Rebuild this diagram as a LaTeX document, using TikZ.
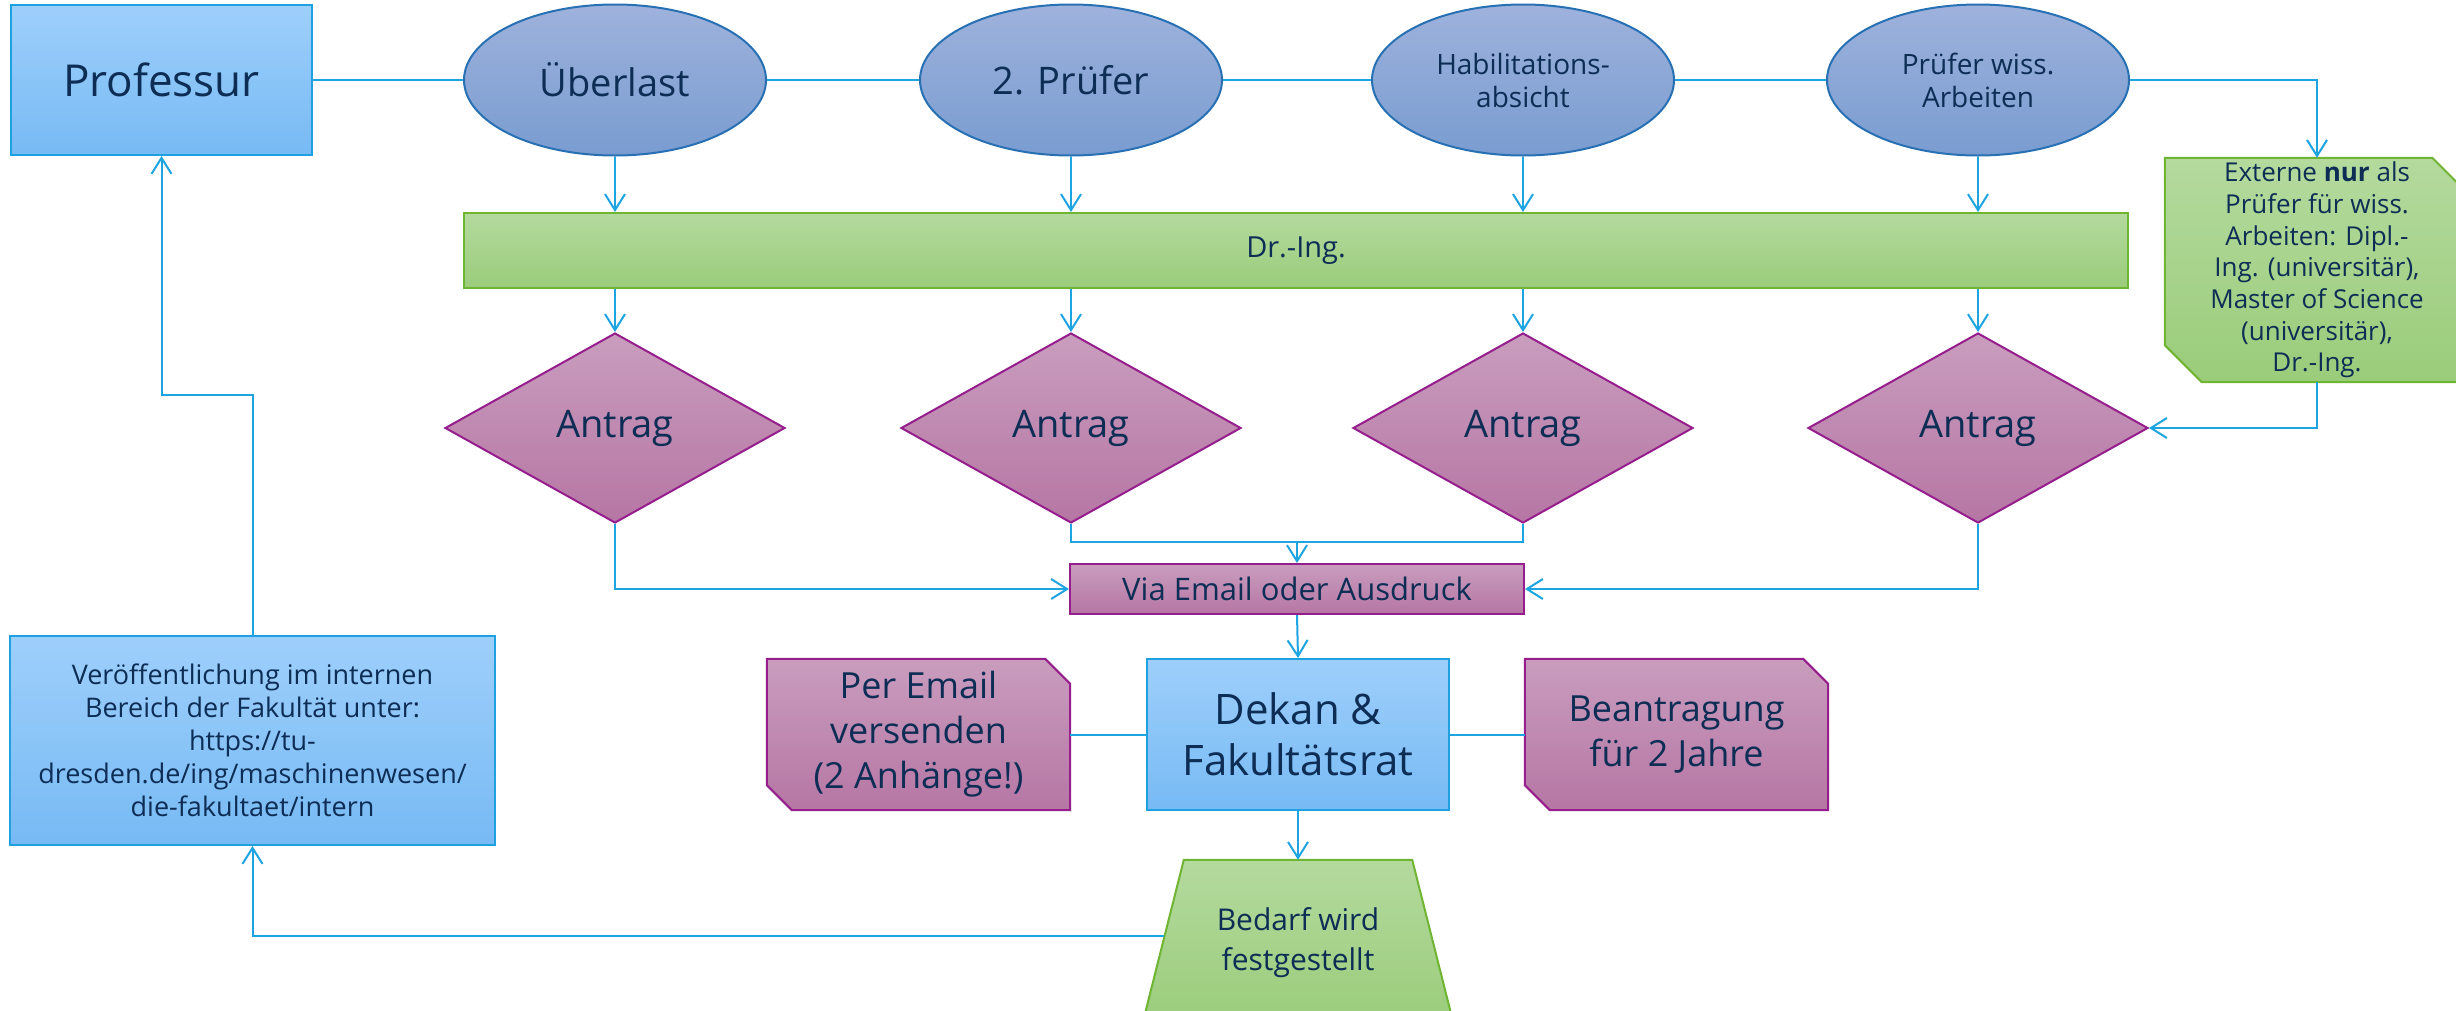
\documentclass[tikz,border=0pt]{standalone}
\usepackage{fontspec}
\setmainfont{Open Sans}
\usetikzlibrary{shapes.geometric,arrows.meta,calc,backgrounds}
\definecolor{textc}{RGB}{13,45,85}
\definecolor{linec}{RGB}{30,165,225}
\definecolor{bluet}{RGB}{158,207,251}
\definecolor{blueb}{RGB}{119,186,244}
\definecolor{bluebd}{RGB}{30,160,225}
\definecolor{ellt}{RGB}{158,178,220}
\definecolor{ellb}{RGB}{121,156,208}
\definecolor{ellbd}{RGB}{40,112,180}
\definecolor{greent}{RGB}{180,218,158}
\definecolor{greenb}{RGB}{154,204,122}
\definecolor{greenbd}{RGB}{112,180,52}
\definecolor{purpt}{RGB}{201,157,190}
\definecolor{purpb}{RGB}{182,118,164}
\definecolor{purpbd}{RGB}{150,30,140}
\newcommand\myfs[2]{\fontsize{#1pt}{#2pt}\selectfont}
\begin{document}
\begin{tikzpicture}[x=1pt,y=-1pt,
  conn/.style={draw=linec, line width=2pt},
  arr/.style={conn, -{Straight Barb[length=16pt,width=20pt]}},
  txt/.style={text=textc, align=center, inner sep=0pt},
  bluebox/.style={txt, rectangle, draw=bluebd, line width=2pt, top color=bluet, bottom color=blueb},
  greenbox/.style={txt, rectangle, draw=greenbd, line width=2pt, top color=greent, bottom color=greenb},
  purplebox/.style={txt, rectangle, draw=purpbd, line width=2pt, top color=purpt, bottom color=purpb},
  ellnode/.style={txt, ellipse, draw=ellbd, line width=2pt, top color=ellt, bottom color=ellb, minimum width=302pt, minimum height=151pt},
  diam/.style={txt, diamond, aspect=2, draw=purpbd, line width=2pt, top color=purpt, bottom color=purpb, minimum width=340pt, minimum height=190pt},
  purpleshape/.style={draw=purpbd, line width=2pt, top color=purpt, bottom color=purpb},
  greenshape/.style={draw=greenbd, line width=2pt, top color=greent, bottom color=greenb}
]
\useasboundingbox (0,0) rectangle (2456,1010);

% top row
\node[bluebox, minimum width=301pt, minimum height=150pt, font=\myfs{44}{52}] (prof) at (161.5,80) {Professur};
\node[ellnode, font=\myfs{38}{46}] (e1) at (615,80) {Überlast};
\node[ellnode, font=\myfs{38}{46}] (e2) at (1071,80) {2. Prüfer};
\node[ellnode, font=\myfs{28}{33}] (e3) at (1523,80) {Habilitations-\\absicht};
\node[ellnode, font=\myfs{28}{33}] (e4) at (1978,80) {Prüfer wiss.\\Arbeiten};

\node[greenbox, minimum width=1664pt, minimum height=75pt, font=\myfs{29}{35}] (dr) at (1296,250.5) {Dr.-Ing.};

\node[txt, minimum width=304pt, minimum height=224pt, font=\myfs{26}{31.7}] (ext) at (2317,270) {Externe \textbf{nur} als\\Prüfer für wiss.\\Arbeiten: Dipl.-\\Ing. (universitär),\\Master of Science\\(universitär),\\Dr.-Ing.};

\node[diam, font=\myfs{38}{46}] (d1) at (615,428) {Antrag};
\node[diam, font=\myfs{38}{46}] (d2) at (1071,428) {Antrag};
\node[diam, font=\myfs{38}{46}] (d3) at (1523,428) {Antrag};
\node[diam, font=\myfs{38}{46}] (d4) at (1978,428) {Antrag};

\node[purplebox, minimum width=454pt, minimum height=50pt, font=\myfs{31}{37}] (via) at (1297,589) {Via Email oder Ausdruck};

\node[bluebox, minimum width=302pt, minimum height=151pt, font=\myfs{42}{51}] (dek) at (1298,734.5) {Dekan \&\\Fakultätsrat};
\node[txt, minimum width=303pt, minimum height=151pt, font=\myfs{36}{45}] (per) at (918.5,734.5) {Per Email\\versenden\\(2 Anhänge!)};
\node[txt, minimum width=303pt, minimum height=151pt, font=\myfs{36}{45}] (bea) at (1676.5,734.5) {Beantragung\\für 2 Jahre};

\node[txt, minimum width=228pt, minimum height=166pt, font=\myfs{30}{40}] (bed) at (1298,943) {Bedarf wird\\festgestellt};

\node[bluebox, minimum width=485pt, minimum height=209pt, font=\myfs{27}{33}] (ver) at (252.5,740.5) {Veröffentlichung im internen\\Bereich der Fakultät unter:\\https://tu-\\dresden.de/ing/maschinenwesen/\\die-fakultaet/intern};

% custom shapes behind text
\begin{scope}[on background layer]
\path[purpleshape] (per.north west) -- ($(per.north east)+(-25,0)$) -- ($(per.north east)+(0,25)$) -- (per.south east) -- ($(per.south west)+(25,0)$) -- ($(per.south west)+(0,-25)$) -- cycle;
\path[purpleshape] (bea.north west) -- ($(bea.north east)+(-25,0)$) -- ($(bea.north east)+(0,25)$) -- (bea.south east) -- ($(bea.south west)+(25,0)$) -- ($(bea.south west)+(0,-25)$) -- cycle;
\path[greenshape] (ext.north west) -- ($(ext.north east)+(-37,0)$) -- ($(ext.north east)+(0,37)$) -- (ext.south east) -- ($(ext.south west)+(37,0)$) -- ($(ext.south west)+(0,-37)$) -- cycle;
\path[greenshape] (bed.north west) -- (bed.north east) -- ($(bed.south east)+(42,0)$) -- ($(bed.south west)+(-42,0)$) -- cycle;
\end{scope}

\coordinate (bedL) at ($(bed.north west)!0.46!($(bed.south west)+(-42,0)$)$);
\coordinate (j) at ($(via.north)+(0,-21)$);

% connectors
\draw[conn] (prof.east) -- (e1.west);
\draw[conn] (e1.east) -- (e2.west);
\draw[conn] (e2.east) -- (e3.west);
\draw[conn] (e3.east) -- (e4.west);
\draw[arr] (e4.east) -| (ext.north);
\foreach \i in {1,2,3,4} {
  \draw[arr] (e\i.south) -- (e\i.south |- dr.north);
  \draw[arr] (d\i.north |- dr.south) -- (d\i.north);
}
\draw[arr] (ext.south) |- (d4.east);
\draw[arr] (d1.south) |- (via.west);
\draw[arr] (d4.south) |- (via.east);
\draw[conn] (d2.south) |- (j);
\draw[conn] (d3.south) |- (j);
\draw[arr] (j) -- (via.north);
\draw[arr] (via.south) -- (dek.north);
\draw[conn] (per.east) -- (dek.west);
\draw[conn] (dek.east) -- (bea.west);
\draw[arr] (dek.south) -- (bed.north);
\draw[arr] (bedL) -| (ver.south);
\draw[arr] (ver.north) -- ++(0,-240) -| (prof.south);
\end{tikzpicture}
\end{document}
